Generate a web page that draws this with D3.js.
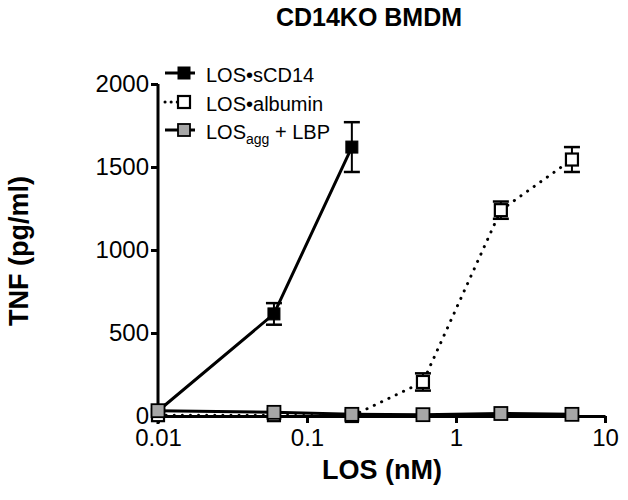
<!DOCTYPE html>
<html><head><meta charset="utf-8">
<script src="https://cdn.jsdelivr.net/npm/d3@7"></script>
<style>body{margin:0;background:#fff}svg{display:block;font-family:Arial,"Liberation Sans",sans-serif}</style>
</head><body>
<script>
const doses = [0.01, 0.06, 0.2, 0.6, 2, 6];
const sCD14Dose = [0.01, 0.06, 0.2];
const sCD14 = [30, 615, 1620];
const sCD14Err = [0, 65, 150];
const albumin = [5, 5, 0, 205, 1240, 1545];
const albuminErr = [0, 0, 0, 52, 52, 75];
const aggLBP = [32, 22, 10, 8, 15, 10];
const aggLBPErr = [0, 0, 0, 0, 0, 0];
const yTicks = [0, 500, 1000, 1500, 2000];
const xTicks = [0.01, 0.1, 1, 10];
const xTickLabels = ["0.01", "0.1", "1", "10"];

const W = 628, H = 500;
const svg = d3.select("body").append("svg").attr("width", W).attr("height", H);
const x = d3.scaleLog().domain([0.01, 10]).range([158, 605]);
const y = d3.scaleLinear().domain([0, 2000]).range([416, 84]);

const FONT = "Arial, 'Liberation Sans', sans-serif";
const yAxis = svg.append("g").attr("transform", "translate(158,0)")
  .call(d3.axisLeft(y).tickValues(yTicks).tickSize(7).tickSizeOuter(0).tickPadding(2).tickFormat(d3.format("d")));
const xAxis = svg.append("g").attr("transform", "translate(0,416)")
  .call(d3.axisBottom(x).tickValues(xTicks).tickSize(7).tickSizeOuter(0).tickPadding(6).tickFormat((d,i)=>xTickLabels[i]));
[yAxis, xAxis].forEach(g => {
  g.select(".domain").attr("stroke", "#000").attr("stroke-width", 3);
  g.selectAll(".tick line").attr("stroke", "#000").attr("stroke-width", 3);
  g.selectAll(".tick text").attr("fill", "#000").style("font-size", "24px").style("font-family", FONT);
});
yAxis.select(".domain").attr("d", "M0,84V424");

const line = d3.line().x(d => x(d[0])).y(d => y(d[1]));

function series(xs, ys, errs, opts) {
  const pts = xs.map((d, i) => [d, ys[i], errs[i]]);
  const g = svg.append("g");
  g.append("path").datum(pts).attr("d", line).attr("fill", "none")
    .attr("stroke", "#000").attr("stroke-width", opts.lw)
    .attr("stroke-dasharray", opts.dash || null).attr("stroke-linecap", opts.dash ? "round" : "butt");
  pts.filter(p => p[2] > 0).forEach(p => {
    const cx = x(p[0]);
    g.append("line").attr("x1", cx).attr("x2", cx).attr("y1", y(p[1] + p[2])).attr("y2", y(p[1] - p[2])).attr("stroke", "#000").attr("stroke-width", 2);
    [p[1] + p[2], p[1] - p[2]].forEach(v => g.append("line").attr("x1", cx - 8).attr("x2", cx + 8).attr("y1", y(v)).attr("y2", y(v)).attr("stroke", "#000").attr("stroke-width", 2.5));
  });
  g.selectAll("rect").data(pts).join("rect")
    .attr("x", d => x(d[0]) - opts.s / 2).attr("y", d => y(d[1]) - opts.s / 2)
    .attr("width", opts.s).attr("height", opts.s)
    .attr("fill", opts.fill).attr("stroke", "#000").attr("stroke-width", opts.sw);
}

series(doses, albumin, albuminErr, {lw: 3, dash: "0.1 8", fill: "#fff", s: 12, sw: 2.2});
series(sCD14Dose, sCD14, sCD14Err, {lw: 3, fill: "#000", s: 12, sw: 1});
series(doses, aggLBP, aggLBPErr, {lw: 3, fill: "#a6a6a6", s: 13, sw: 1.8});

// legend
const legend = [
  {y: 73, fill: "#000", dash: null, sw: 1},
  {y: 102, fill: "#fff", dash: "0.1 6", sw: 2.2},
  {y: 130, fill: "#a6a6a6", dash: null, sw: 1.8}
];
legend.forEach(l => {
  svg.append("line").attr("x1", 165).attr("x2", 195).attr("y1", l.y).attr("y2", l.y)
    .attr("stroke", "#000").attr("stroke-width", 3).attr("stroke-dasharray", l.dash).attr("stroke-linecap", l.dash ? "round" : "butt");
  svg.append("rect").attr("x", 178).attr("y", l.y - 6).attr("width", 12).attr("height", 12)
    .attr("fill", l.fill).attr("stroke", "#000").attr("stroke-width", l.sw);
});
const lt = svg.append("g").style("font-size", "20px").attr("fill", "#000");
lt.append("text").attr("x", 206).attr("y", 82).text("LOS•sCD14");
lt.append("text").attr("x", 206).attr("y", 111).text("LOS•albumin");
const t3 = lt.append("text").attr("x", 206).attr("y", 139);
t3.append("tspan").text("LOS");
t3.append("tspan").attr("dy", 5).style("font-size", "14px").text("agg");
t3.append("tspan").attr("dy", -5).text(" + LBP");

// titles
svg.append("text").attr("x", 369).attr("y", 26).attr("text-anchor", "middle")
  .style("font-size", "25px").style("font-weight", "bold").text("CD14KO BMDM");
svg.append("text").attr("transform", "translate(28,251) rotate(-90)").attr("text-anchor", "middle")
  .style("font-size", "27px").style("font-weight", "bold").text("TNF (pg/ml)");
svg.append("text").attr("x", 382).attr("y", 479).attr("text-anchor", "middle")
  .style("font-size", "27px").style("font-weight", "bold").text("LOS (nM)");
</script>
</body></html>
